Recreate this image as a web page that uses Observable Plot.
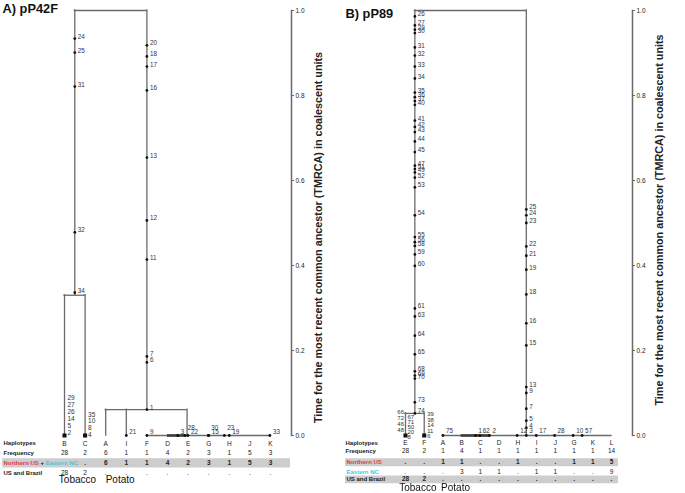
<!DOCTYPE html>
<html>
<head>
<meta charset="utf-8">
<script src="https://cdn.jsdelivr.net/npm/d3@7"></script>
<script src="https://cdn.jsdelivr.net/npm/@observablehq/plot@0.6"></script>
<style>
  html,body{margin:0;padding:0;background:#fff;}
  #chart{display:flex;width:685px;height:493px;overflow:hidden;}
  #chart svg{display:block;flex:none;opacity:0.999;will-change:opacity;}
</style>
</head>
<body>
<div id="chart"></div>
<script>
// ================= DATA =================
const axisTitle = "Time for the most recent common ancestor (TMRCA) in coalescent units";
const tickValues = [0, 0.2, 0.4, 0.6, 0.8, 1.0];

// ---- Panel A: pP42F ----
const titleA = "A) pP42F";
const hapsA  = ["B","C","A","I","F","D","E","G","H","J","K"];
const freqA  = ["28","2","6","1","1","4","2","3","1","5","3"];
const nusEncA = ["",".","6","1","1","4","2","3","1","5","3"];   // Northern US + Eastern NC
const usBrA  = ["28","2",".",".",".",".",".",".",".",".","."];
// tree (x = haplotype column, t = TMRCA)
const stemsA = [
  {x:0.5, t1:1, t2:0.33}, {x:4, t1:1, t2:0.061},
  {x:0, t1:0.33, t2:0}, {x:1, t1:0.33, t2:0},
  {x:2, t1:0.061, t2:0}, {x:3, t1:0.061, t2:0}, {x:5.95, t1:0.061, t2:0}
];
const barsA  = [{x1:0.5,x2:4,t:1},{x1:0,x2:1,t:0.33},{x1:2,x2:5.95,t:0.061},{x1:4,x2:10,t:0}];
const thickA = [{x1:5,x2:5.95,t:0}];
const nodeIdA = [24,25,31,32,34, 20,18,17,16,13,12,11,7,6,1, 21,9,3,28,22,30,15,23,19,33];
const nodeXA  = [0.5,0.5,0.5,0.5,0.5, 4,4,4,4,4,4,4,4,4,4, 3,4,5.5,5.84,5.99,6.98,7,7.76,8,9.97];
const nodeTA  = [0.934,0.901,0.821,0.478,0.336, 0.918,0.892,0.868,0.812,0.654,0.506,0.414,0.186,0.172,0.061, 0,0,0,0,0,0,0,0,0,0];
const liftA   = [28,30,23];
const tipsA   = [0,1];
const stackB_A = ["29","27","26","14","5","2"];
const stackC_A = ["35","10","8","4"];

// ---- Panel B: pP89 ----
const titleB = "B) pP89";
const hapsB  = ["E","F","A","B","C","D","H","I","J","G","K","L"];
const freqB  = ["28","2","1","4","1","1","1","1","1","1","1","14"];
const northB = [".",".","1","1",".",".","1",".",".","1","1","5"];
const eastB  = [".",".",".","3","1","1",".","1","1",".",".","9"];
const usBrB  = ["28","2",".",".",".",".",".",".",".",".",".","."];
const stemsB = [
  {x:0.5, t1:1, t2:0.052}, {x:6.45, t1:1, t2:0},
  {x:0, t1:0.052, t2:0}, {x:1, t1:0.052, t2:0}
];
const barsB  = [{x1:0.5,x2:6.45,t:1},{x1:0,x2:1,t:0.052},{x1:2,x2:11,t:0}];
const thickB = [{x1:2.97,x2:4.54,t:0}];
const leftIdB = [26,27,29,30,31,32,33,34,35,36,37,40,41,42,43,44,45,47,51,49,52,53,54,55,56,58,59,60,61,63,64,65,68,69,70,73,74];
const leftTB  = [0.986,0.965,0.955,0.947,0.913,0.894,0.868,0.840,0.807,0.796,0.787,0.778,0.741,0.726,0.714,0.692,0.667,0.635,0.627,0.619,0.607,0.584,0.518,0.467,0.455,0.446,0.426,0.399,0.299,0.280,0.235,0.191,0.151,0.141,0.134,0.078,0.052];
const rightIdB = [25,24,23,22,21,19,18,16,15,13,9,7,5,4,3];
const rightTB  = [0.532,0.518,0.500,0.445,0.423,0.390,0.332,0.264,0.212,0.114,0.100,0.063,0.035,0.018,0];
const baseIdB  = [75,1,62,2,12,17,28,10,57];
const baseXB   = [2,3.74,3.97,4.48,5.96,6.98,7.96,8.95,9.43];
const tipsB    = [0,1];
const stackEoutB = ["66","72","46","48"];
const stackEinB  = ["67","71","50","20","8"];
const stackF_B   = ["39","38","14","11","6"];

// ================= DRAWING =================
const FONT = "'Liberation Sans', Arial, Helvetica, sans-serif";
const LINE = "#6a6a6a", RED = "#e2393f", CYAN = "#46c8dc", BAND = "#cdcdcd", TXT = "#222";

function measure(text, size, weight) {
  const c = document.createElement("canvas").getContext("2d");
  c.font = `${weight} ${size}px ${FONT}`;
  return c.measureText(text).width;
}
const zero = () => 0;

function rowLabel(segments, dy, dx0, size) {
  const marks = [];
  let dx = dx0;
  for (const s of segments) {
    marks.push(Plot.text([s.t], {frameAnchor: "left", y: zero, text: d => d, dx, dy, fill: s.c,
      fontSize: size, fontWeight: "bold", textAnchor: "start", lineAnchor: "middle"}));
    dx += measure(s.t, size, "bold");
  }
  return marks;
}
function rowValues(values, dy, bold) {
  return Plot.text(values.map((v, i) => ({i, v})), {x: "i", y: zero, text: "v", dy,
    fontSize: 6.5, fontWeight: bold ? "bold" : "normal", fill: TXT, lineAnchor: "middle"});
}
function stack(x, lines, o) {
  return Plot.text([lines.join("\n")], {x: () => x, y: zero, text: d => d, lineAnchor: "middle",
    fontSize: o.size, lineHeight: o.lh, textAnchor: o.anchor || "start", dx: o.dx, dy: o.dy, fill: "#333"});
}

function basePlot(cfg, marks) {
  const xDomain = [-cfg.originPx / cfg.stepPx, (cfg.axisPx - cfg.originPx) / cfg.stepPx];
  return Plot.plot({
    width: cfg.width, height: 493,
    marginTop: 10, marginBottom: 58, marginLeft: 0, marginRight: cfg.width - cfg.axisPx,
    x: {domain: xDomain, axis: null},
    y: {domain: [0, 1], axis: null},
    style: {fontFamily: FONT, background: "white", overflow: "visible", color: TXT},
    marks: [
      Plot.frame({anchor: "right", stroke: LINE, strokeWidth: 1.5}),
      Plot.axisY({anchor: "right", ticks: tickValues, tickFormat: d3.format(".1f"), tickSize: 2,
        tickPadding: 2, fontSize: 6.5, stroke: LINE, label: null}),
      Plot.text([axisTitle], {frameAnchor: "right", text: d => d, rotate: -90, dx: 27, dy: cfg.axisTitleDy,
        fontSize: 10.8, fontWeight: "bold", fill: TXT, textAnchor: "middle", lineAnchor: "middle"}),
      Plot.text([cfg.title], {frameAnchor: "top-left", text: d => d, dx: cfg.titleDx, dy: cfg.titleDy,
        fontSize: 12.8, fontWeight: "bold", fill: "#111", textAnchor: "start", lineAnchor: "top"}),
      ...marks
    ]
  });
}
function treeMarks(stems, bars, thick) {
  return [
    Plot.ruleX(stems, {x: "x", y1: "t1", y2: "t2", stroke: LINE, strokeWidth: 1.3, strokeLinecap: "square"}),
    Plot.ruleY(bars, {y: "t", x1: "x1", x2: "x2", stroke: LINE, strokeWidth: 1.3, strokeLinecap: "square"}),
    Plot.ruleY(thick, {y: "t", x1: "x1", x2: "x2", stroke: "#3a3a3a", strokeWidth: 2.6})
  ];
}
function nodeMarks(nodes, dyOf) {
  const groups = d3.group(nodes, dyOf);
  const marks = [Plot.dot(nodes, {x: "x", y: "t", r: 1.4, fill: "#111"})];
  for (const [dy, g] of groups) {
    marks.push(Plot.text(g, {x: "x", y: "t", text: d => String(d.id), dx: 3, dy, fontSize: 6.3,
      fill: "#333", textAnchor: "start", lineAnchor: "middle"}));
  }
  return marks;
}

// ---- Panel A ----
const nodesA = nodeIdA.map((id, i) => ({id, x: nodeXA[i], t: nodeTA[i]}));
const cfgA = {width: 340, originPx: 64, stepPx: 20.6, axisPx: 291, title: titleA, titleDx: 2, titleDy: -6.5, axisTitleDy: 14.5};
const plotA = basePlot(cfgA, [
  Plot.ruleY([0], {x1: -3.0, x2: 10.97, dy: 27.3, stroke: BAND, strokeWidth: 9.3}),
  ...treeMarks(stemsA, barsA, thickA),
  ...nodeMarks(nodesA, d => d.t > 0.001 ? -2 : (liftA.includes(d.id) ? -8 : -3.5)),
  Plot.dot(tipsA, {x: d => d, y: zero, symbol: "square", r: 2.3, fill: "#111"}),
  stack(0, stackB_A, {size: 6.5, lh: 1.1, dx: 3, dy: -20.3}),
  stack(1, stackC_A, {size: 6.5, lh: 1.03, dx: 3, dy: -11}),
  ...rowLabel([{t: "Haplotypes", c: TXT}], 8, 3, 6),
  ...rowLabel([{t: "Frequency", c: TXT}], 17.5, 3, 6),
  ...rowLabel([{t: "Northern US", c: RED}, {t: " + ", c: TXT}, {t: "Eastern NC", c: CYAN}], 27.3, 3, 6),
  ...rowLabel([{t: "US and Brazil", c: TXT}], 37.3, 3, 6),
  rowValues(hapsA, 8, false),
  rowValues(freqA, 17.5, false),
  rowValues(nusEncA, 27.3, true),
  rowValues(usBrA, 37.3, false),
  Plot.text(["Tobacco"], {x: () => 0.63, y: zero, text: d => d, dy: 44.3, fontSize: 10, fill: "#111", lineAnchor: "middle"}),
  Plot.text(["Potato"], {x: () => 2, y: zero, text: d => d, dy: 44.3, fontSize: 10, fill: "#111", textAnchor: "start", lineAnchor: "middle"})
]);

// ---- Panel B ----
const nodesB = [
  ...leftIdB.map((id, i) => ({id, x: 0.5, t: leftTB[i]})),
  ...rightIdB.map((id, i) => ({id, x: 6.45, t: rightTB[i]})),
  ...baseIdB.map((id, i) => ({id, x: baseXB[i], t: 0}))
];
const cfgB = {width: 345, originPx: 65, stepPx: 18.73, axisPx: 292, title: titleB, titleDx: 5, titleDy: -2, axisTitleDy: -3};
const plotB = basePlot(cfgB, [
  Plot.ruleY([0], {x1: -3.2, x2: 11.37, dy: 26.7, stroke: BAND, strokeWidth: 8}),
  Plot.ruleY([0], {x1: -3.2, x2: 11.37, dy: 43.9, stroke: BAND, strokeWidth: 7.7}),
  ...treeMarks(stemsB, barsB, thickB),
  ...nodeMarks(nodesB, d => d.t > 0.001 ? -2 : -5),
  Plot.dot(tipsB, {x: d => d, y: zero, symbol: "square", r: 2.3, fill: "#111"}),
  stack(0, stackEoutB, {size: 6, lh: 1.0, dx: -1.5, dy: -14, anchor: "end"}),
  stack(0, stackEinB, {size: 6, lh: 0.83, dx: 2, dy: -8}),
  stack(1, stackF_B, {size: 6, lh: 0.92, dx: 3, dy: -10}),
  ...rowLabel([{t: "Haplotypes", c: TXT}], 7.3, 5, 6),
  ...rowLabel([{t: "Frequency", c: TXT}], 15.7, 5, 6),
  ...rowLabel([{t: "Northern US", c: RED}], 26.7, 6, 6),
  ...rowLabel([{t: "Eastern NC", c: CYAN}], 36.7, 6, 6),
  ...rowLabel([{t: "US and Brazil", c: TXT}], 43.9, 6, 6),
  rowValues(hapsB, 7.3, false),
  rowValues(freqB, 15.7, false),
  rowValues(northB, 26.7, true),
  rowValues(eastB, 36.7, false),
  rowValues(usBrB, 43.9, true),
  Plot.text(["Tobacco"], {x: () => 0.66, y: zero, text: d => d, dy: 52.7, fontSize: 10, fill: "#111", lineAnchor: "middle"}),
  Plot.text(["Potato"], {x: () => 1.9, y: zero, text: d => d, dy: 52.7, fontSize: 10, fill: "#111", textAnchor: "start", lineAnchor: "middle"})
]);

document.getElementById("chart").append(plotA, plotB);
</script>
</body>
</html>
